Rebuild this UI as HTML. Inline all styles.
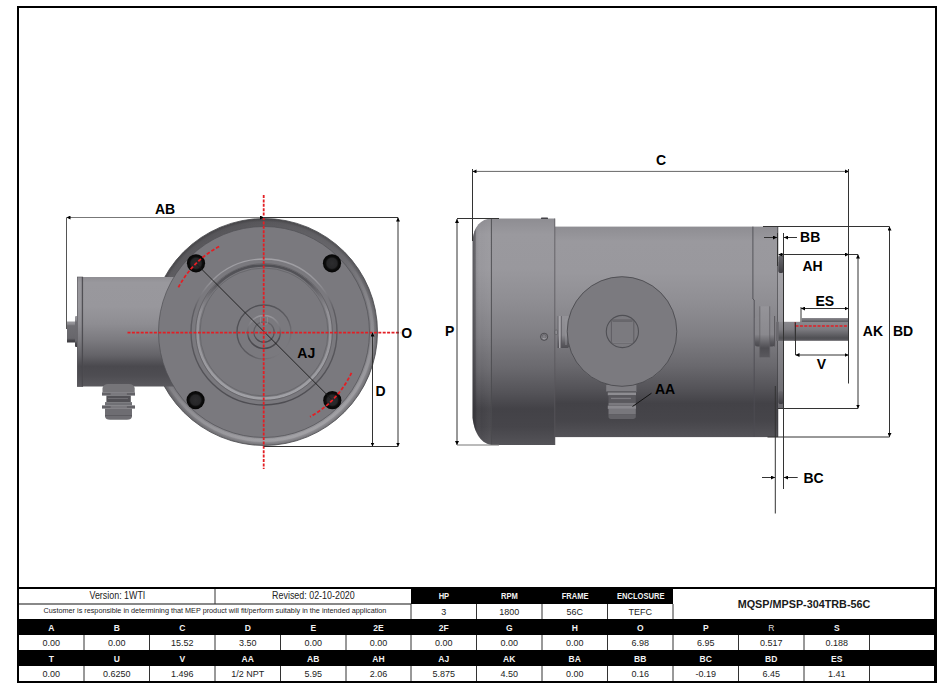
<!DOCTYPE html>
<html><head><meta charset="utf-8"><style>
html,body{margin:0;padding:0;background:#fff;}
body{width:947px;height:692px;position:relative;overflow:hidden;font-family:"Liberation Sans",sans-serif;}
.abs{position:absolute;}
.h,.d,.t{position:absolute;text-align:center;white-space:nowrap;box-sizing:border-box;}
.h{background:#000;color:#f2f2f2;font-weight:bold;font-size:8.5px;padding-top:1px;}
.hr{font-weight:normal;color:#ddd;}
.sx{display:inline-block;transform:scaleX(0.89);}
.d{background:#fff;color:#222;font-size:9px;padding-top:1px;}
.vl{position:absolute;width:1px;background:#666;}
#draw{position:absolute;left:0;top:0;}
#draw text{font-family:"Liberation Sans",sans-serif;font-weight:bold;font-size:14px;fill:#000;text-anchor:middle;}
</style></head><body>
<svg id="draw" width="947" height="692" viewBox="0 0 947 692">
<defs>
  <linearGradient id="gBody" x1="0" y1="0" x2="0" y2="1">
    <stop offset="0" stop-color="#8e8d92"/>
    <stop offset="0.07" stop-color="#9a999e"/>
    <stop offset="0.22" stop-color="#99989d"/>
    <stop offset="0.36" stop-color="#8f8e93"/>
    <stop offset="0.51" stop-color="#807f84"/>
    <stop offset="0.66" stop-color="#6a696e"/>
    <stop offset="0.77" stop-color="#545358"/>
    <stop offset="0.84" stop-color="#434247"/>
    <stop offset="0.92" stop-color="#46454a"/>
    <stop offset="1" stop-color="#545358"/>
  </linearGradient>
  <linearGradient id="gCyl" x1="0" y1="0" x2="0" y2="1">
    <stop offset="0" stop-color="#8f8e93"/>
    <stop offset="0.05" stop-color="#99989d"/>
    <stop offset="0.27" stop-color="#98979c"/>
    <stop offset="0.43" stop-color="#8e8d92"/>
    <stop offset="0.585" stop-color="#7a797e"/>
    <stop offset="0.715" stop-color="#646368"/>
    <stop offset="0.815" stop-color="#4a494e"/>
    <stop offset="0.9" stop-color="#4e4d52"/>
    <stop offset="1" stop-color="#5a595e"/>
  </linearGradient>
  <linearGradient id="gRim" x1="0.3" y1="0" x2="0.7" y2="1">
    <stop offset="0" stop-color="#555458"/>
    <stop offset="0.45" stop-color="#737277"/>
    <stop offset="1" stop-color="#99989d"/>
  </linearGradient>
  <linearGradient id="gShaft" x1="0" y1="0" x2="0" y2="1">
    <stop offset="0" stop-color="#8a898e"/>
    <stop offset="0.4" stop-color="#7c7b80"/>
    <stop offset="0.85" stop-color="#505054"/>
    <stop offset="1" stop-color="#5e5d62"/>
  </linearGradient>
  <radialGradient id="gBolt" cx="0.5" cy="0.5" r="0.5">
    <stop offset="0" stop-color="#2c2c2e"/>
    <stop offset="0.55" stop-color="#262628"/>
    <stop offset="0.72" stop-color="#0c0c0c"/>
    <stop offset="1" stop-color="#050505"/>
  </radialGradient>
  <marker id="ar" viewBox="0 0 10 10" refX="10" refY="5" markerWidth="4" markerHeight="4" orient="auto-start-reverse" markerUnits="userSpaceOnUse">
    <path d="M0,0 L10,5 L0,10 z" fill="#000"/>
  </marker>
  <linearGradient id="gTL" x1="0" y1="0" x2="0" y2="1">
    <stop offset="0" stop-color="#a2a1a6"/>
    <stop offset="0.15" stop-color="#96959a"/>
    <stop offset="0.35" stop-color="#5e5d62"/>
    <stop offset="1" stop-color="#4e4d52"/>
  </linearGradient>
  <linearGradient id="gTD" x1="0" y1="0" x2="0" y2="1">
    <stop offset="0" stop-color="#505055"/>
    <stop offset="0.12" stop-color="#56555a"/>
    <stop offset="0.35" stop-color="#929196"/>
    <stop offset="1" stop-color="#a0a0a5"/>
  </linearGradient>
  <linearGradient id="gCD" x1="0" y1="0" x2="1" y2="1">
    <stop offset="0" stop-color="#4a4a4f"/>
    <stop offset="0.6" stop-color="#5e5d62"/>
    <stop offset="1" stop-color="#8a898e"/>
  </linearGradient>
  <linearGradient id="gBellEdge" x1="0" y1="0" x2="1" y2="0">
    <stop offset="0" stop-color="#2e2d32" stop-opacity="0.6"/>
    <stop offset="0.14" stop-color="#2e2d32" stop-opacity="0.45"/>
    <stop offset="0.2" stop-color="#2e2d32" stop-opacity="0.08"/>
    <stop offset="0.45" stop-color="#ffffff" stop-opacity="0.0"/>
    <stop offset="1" stop-color="#ffffff" stop-opacity="0.04"/>
  </linearGradient>
  <linearGradient id="gLump" x1="0" y1="0" x2="0" y2="1">
    <stop offset="0" stop-color="#6a696e"/>
    <stop offset="0.5" stop-color="#56555a"/>
    <stop offset="1" stop-color="#3e3d42"/>
  </linearGradient>
  <linearGradient id="gTab" x1="0" y1="0" x2="0" y2="1">
    <stop offset="0" stop-color="#939297"/>
    <stop offset="0.6" stop-color="#8a898e"/>
    <stop offset="0.85" stop-color="#5e5d62"/>
    <stop offset="1" stop-color="#4e4d52"/>
  </linearGradient>
  <linearGradient id="gCap" x1="0" y1="0" x2="0" y2="1">
    <stop offset="0" stop-color="#8a898e"/>
    <stop offset="0.6" stop-color="#86858a"/>
    <stop offset="0.85" stop-color="#5a595e"/>
    <stop offset="1" stop-color="#4a494e"/>
  </linearGradient>
  <linearGradient id="gCap2" x1="0" y1="0" x2="0" y2="1">
    <stop offset="0" stop-color="#959499"/>
    <stop offset="0.55" stop-color="#8a898e"/>
    <stop offset="0.82" stop-color="#4e4d52"/>
    <stop offset="1" stop-color="#5a595e"/>
  </linearGradient>
  <linearGradient id="gKey" x1="0" y1="0" x2="0" y2="1">
    <stop offset="0" stop-color="#8c8b90"/>
    <stop offset="1" stop-color="#5a595e"/>
  </linearGradient>
  <linearGradient id="gStrip" x1="0" y1="0" x2="0" y2="1">
    <stop offset="0" stop-color="#a6a5aa"/>
    <stop offset="0.35" stop-color="#9a999e"/>
    <stop offset="0.6" stop-color="#858489"/>
    <stop offset="1" stop-color="#6a696e"/>
  </linearGradient>
  <linearGradient id="gR16" x1="0" y1="0" x2="0" y2="1">
    <stop offset="0" stop-color="#98979c"/>
    <stop offset="0.45" stop-color="#6e6d72"/>
    <stop offset="0.7" stop-color="#4e4d52"/>
    <stop offset="1" stop-color="#4a494e"/>
  </linearGradient>
  <linearGradient id="gR10" x1="0" y1="0" x2="0" y2="1">
    <stop offset="0" stop-color="#68676c"/>
    <stop offset="1" stop-color="#4a494e"/>
  </linearGradient>
  <radialGradient id="gRimR" cx="0.5" cy="0.5" r="0.5">
    <stop offset="0.925" stop-color="#000" stop-opacity="0"/>
    <stop offset="0.97" stop-color="#000" stop-opacity="0.03"/>
    <stop offset="1" stop-color="#000" stop-opacity="0.25"/>
  </radialGradient>
  <linearGradient id="gRimHi" x1="0.2" y1="0" x2="0.8" y2="1">
    <stop offset="0" stop-color="#fff" stop-opacity="0"/>
    <stop offset="0.4" stop-color="#fff" stop-opacity="0"/>
    <stop offset="0.6" stop-color="#fff" stop-opacity="0.12"/>
    <stop offset="1" stop-color="#fff" stop-opacity="0.15"/>
  </linearGradient>
  <linearGradient id="gNub" x1="0" y1="0" x2="0" y2="1">
    <stop offset="0" stop-color="#9a999e"/>
    <stop offset="0.12" stop-color="#8e8d92"/>
    <stop offset="0.2" stop-color="#6e6d72"/>
    <stop offset="0.8" stop-color="#67666b"/>
    <stop offset="0.9" stop-color="#47464b"/>
    <stop offset="1" stop-color="#3e3d42"/>
  </linearGradient>
</defs>

<!-- ============ LEFT VIEW ============ -->
<!-- main disc -->
<circle cx="264" cy="332" r="113.5" fill="url(#gRim)"/>
<circle cx="264" cy="332" r="113.5" fill="url(#gRimR)"/>
<circle cx="264" cy="332" r="108.5" fill="none" stroke="url(#gRimHi)" stroke-width="3"/>
<circle cx="264" cy="332" r="113.5" fill="none" stroke="#4a4a4e" stroke-width="0.8"/>
<!-- conduit box cylinder -->
<rect x="67" y="321.5" width="9" height="21" fill="url(#gNub)"/>
<rect x="75" y="316" width="3" height="31" rx="1" fill="url(#gNub)"/>
<rect x="77" y="277" width="100" height="109.5" fill="url(#gCyl)"/>
<rect x="77.3" y="277" width="5.5" height="109.5" fill="url(#gCyl)" stroke="#5a595e" stroke-width="0.6"/>
<line x1="82.3" y1="277" x2="82.3" y2="386.5" stroke="#48474c" stroke-width="1"/>
<!-- cable gland -->
<g>
  <path d="M102.5,392.4 L102.5,388 Q103.5,384 108,383.9 L129,383.9 Q133.7,384 134.7,388 L134.7,392.4 Z" fill="#767579"/>
  <rect x="102" y="392.4" width="33" height="3.2" fill="#636267"/>
  <rect x="110.6" y="392.9" width="16.3" height="2.2" fill="#7a797e"/>
  <rect x="106.4" y="395.6" width="24.4" height="6.5" fill="#525156"/>
  <rect x="108" y="398" width="20" height="1" fill="#6e6d72"/>
  <rect x="105" y="402.1" width="27" height="3.3" fill="#707075"/>
  <rect x="102" y="405.4" width="33" height="3.2" fill="#636267"/>
  <rect x="110.6" y="405.9" width="16.3" height="2.2" fill="#7a797e"/>
  <path d="M105,408.6 L132,408.6 L132,416.5 Q131.5,419.7 127,419.7 L110,419.7 Q105.5,419.7 105,416.5 Z" fill="#6e6d72"/>
  <rect x="105" y="415" width="27" height="0.8" fill="#58575c"/>
</g>
<circle cx="264" cy="332" r="105.5" fill="#7a797e" stroke="#505054" stroke-width="0.7"/>
<!-- pilot ring -->
<circle cx="264" cy="332" r="73" fill="none" stroke="url(#gTL)" stroke-width="1.4"/>
<circle cx="264" cy="332" r="66.5" fill="none" stroke="url(#gTD)" stroke-width="2.6"/>
<circle cx="264" cy="332" r="68.4" fill="none" stroke="#5e5d62" stroke-width="0.7"/>
<circle cx="264" cy="332" r="64" fill="none" stroke="#626166" stroke-width="0.7"/>
<!-- center rings -->
<circle cx="264" cy="332" r="27" fill="none" stroke="url(#gCD)" stroke-width="1.4"/>
<circle cx="264" cy="332" r="16.4" fill="none" stroke="url(#gR16)" stroke-width="1.5"/>
<circle cx="264" cy="332" r="10.2" fill="none" stroke="url(#gR10)" stroke-width="1.2"/>
<rect x="260.5" y="316.2" width="7" height="8" rx="1.5" fill="none" stroke="#8e8d92" stroke-width="0.8"/>
<!-- bolt holes -->
<circle cx="196" cy="263.3" r="9.1" fill="url(#gBolt)"/>
<circle cx="332" cy="263.3" r="9.1" fill="url(#gBolt)"/>
<circle cx="195.6" cy="400.1" r="9.1" fill="url(#gBolt)"/>
<circle cx="332.3" cy="400.2" r="9.1" fill="url(#gBolt)"/>
<!-- AJ line -->
<line x1="196" y1="263.5" x2="332.3" y2="400" stroke="#1a1a1a" stroke-width="0.9"/>
<!-- red centerlines -->
<line x1="263.7" y1="195" x2="263.7" y2="469" stroke="#e31e24" stroke-width="1.8" stroke-dasharray="3,1.4"/>
<line x1="127.5" y1="332.7" x2="400.5" y2="332.7" stroke="#e31e24" stroke-width="1.8" stroke-dasharray="3,1.4"/>
<path d="M178.4,287.4 A96.5,96.5 0 0 1 220.2,246" fill="none" stroke="#e31e24" stroke-width="1.8" stroke-dasharray="3.5,2"/>
<path d="M351.5,372.8 A96.5,96.5 0 0 1 310,416.8" fill="none" stroke="#e31e24" stroke-width="1.8" stroke-dasharray="3.5,2"/>

<!-- left dims -->
<g stroke="#333" stroke-width="1" fill="none">
  <line x1="66.5" y1="217.5" x2="264" y2="217.5" marker-start="url(#ar)" marker-end="url(#ar)" stroke="#777"/>
  <line x1="66.5" y1="217.5" x2="66.5" y2="329" stroke="#555"/>
  <line x1="264" y1="217.5" x2="398" y2="217.5"/>
  <line x1="398" y1="217.5" x2="398" y2="446.5" marker-start="url(#ar)" marker-end="url(#ar)"/>
  <line x1="264" y1="446.5" x2="398" y2="446.5"/>
  <line x1="372.5" y1="332.5" x2="372.5" y2="446.5" marker-start="url(#ar)" marker-end="url(#ar)"/>
</g>
<text x="165" y="214.3">AB</text>
<text x="406.6" y="337.8">O</text>
<text x="380.5" y="395.7">D</text>
<text x="306.3" y="358" fill="#222">AJ</text>

<!-- ============ RIGHT VIEW ============ -->
<!-- main body -->
<rect x="554" y="226.6" width="224" height="210.5" fill="url(#gBody)"/>
<path d="M752.9,226.6 L752.9,299 L754.2,300 L754.2,437" fill="none" stroke="#4e4d52" stroke-width="0.9"/>
<line x1="777.8" y1="226.6" x2="777.8" y2="437" stroke="#3a3a3e" stroke-width="0.8"/>
<!-- face strip -->
<rect x="778" y="262" width="5.7" height="146.5" fill="url(#gStrip)"/>
<line x1="783.5" y1="262" x2="783.5" y2="408.5" stroke="#555459" stroke-width="0.9"/>
<rect x="778.3" y="255" width="5.2" height="18" rx="2.6" fill="url(#gLump)"/>
<rect x="778.3" y="391" width="5.2" height="13" rx="2.6" fill="url(#gLump)"/>
<!-- end bell -->
<path d="M491.5,218.5 L555,218.5 L555,445 L491.5,445 C479,443 474,430 472.6,418 L472.6,241 C473.5,226 481,219 491.5,218.5 Z" fill="url(#gBody)"/>
<path d="M491.5,218.5 L491.5,445 C479,443 474,430 472.6,418 L472.6,241 C473.5,226 481,219 491.5,218.5 Z" fill="url(#gBellEdge)"/>
<line x1="491.4" y1="218.5" x2="491.4" y2="445" stroke="#4a494e" stroke-width="0.9"/>
<line x1="554.8" y1="218.5" x2="554.8" y2="445" stroke="#58575c" stroke-width="0.8"/>
<rect x="541" y="217.6" width="7" height="1.4" rx="0.6" fill="#444348"/>
<!-- screw -->
<circle cx="544.1" cy="336.8" r="3.6" fill="#818085" stroke="#46454a" stroke-width="0.9"/>
<circle cx="544.1" cy="336.5" r="2" fill="none" stroke="#5a595e" stroke-width="0.6"/>
<path d="M542.3,337.6 A2,2 0 0 0 546,337.6" fill="none" stroke="#a8a7ac" stroke-width="1"/>
<!-- conduit box (end view) -->
<path d="M557.7,316 L568,316 L569.5,318 L569.5,346 L568,348 L557.7,348 Z" fill="url(#gTab)"/>
<line x1="557.9" y1="316" x2="557.9" y2="348" stroke="#5a595e" stroke-width="0.6"/>
<line x1="559.8" y1="316" x2="559.8" y2="348" stroke="#a6a5aa" stroke-width="1.6"/>
<line x1="561.4" y1="316" x2="561.4" y2="348" stroke="#56555a" stroke-width="0.7"/>
<line x1="566" y1="319" x2="566" y2="345" stroke="#98979c" stroke-width="0.8"/>
<rect x="555" y="330" width="2.5" height="4.5" rx="1" fill="#8e8d92" stroke="#505055" stroke-width="0.5"/>
<!-- gland -->
<rect x="606.2" y="385" width="30.2" height="7" fill="#7e7d82"/>
<rect x="606.2" y="391" width="30.2" height="1" fill="#5e5d62"/>
<rect x="607.8" y="392.5" width="28.2" height="2.8" fill="#8e8d92"/>
<rect x="608.5" y="395.3" width="27.3" height="7.5" fill="#5a595e"/>
<rect x="611" y="397.8" width="20" height="1.3" fill="#7c7b80"/>
<rect x="608.5" y="402.8" width="27.3" height="2.7" fill="#7a797e"/>
<rect x="607.8" y="405.6" width="28.2" height="3.3" fill="#8a898e"/>
<rect x="608.5" y="409" width="27.3" height="5.5" fill="#78777c"/>
<path d="M608.5,414.5 L635.8,414.5 L635.8,417 Q635.3,419 632,419 L612,419 Q608.7,419 608.5,417 Z" fill="#636267"/>
<circle cx="622" cy="331.5" r="55" fill="#7b7a7f"/>
<circle cx="622" cy="331.5" r="54.8" fill="none" stroke="#3e3e42" stroke-width="0.7"/>
<circle cx="622.4" cy="331.5" r="16.1" fill="none" stroke="#505055" stroke-width="1.1"/>
<rect x="611.4" y="320" width="22.4" height="23.2" rx="1.5" fill="none" stroke="#58575c" stroke-width="0.8"/>
<line x1="612.5" y1="321.2" x2="632.5" y2="321.2" stroke="#67666b" stroke-width="1.6"/>
<line x1="612.5" y1="342.8" x2="632.5" y2="342.8" stroke="#8e8d92" stroke-width="0.7"/>
<!-- bearing cap -->
<rect x="754.9" y="316" width="19.7" height="30.5" rx="2.5" fill="url(#gCap)"/>
<rect x="759.8" y="306.3" width="9.9" height="51" fill="url(#gCap2)"/>
<line x1="759.8" y1="306.3" x2="759.8" y2="357.3" stroke="#5e5d62" stroke-width="0.7"/>
<line x1="769.7" y1="306.3" x2="769.7" y2="357.3" stroke="#5e5d62" stroke-width="0.7"/>
<line x1="774.6" y1="316" x2="774.6" y2="346.5" stroke="#4e4d52" stroke-width="0.8"/>
<!-- shaft -->
<rect x="776.2" y="321.8" width="72.4" height="19" fill="url(#gShaft)"/>
<rect x="776.2" y="321.8" width="2.5" height="19" fill="#6a696e"/>
<rect x="801.8" y="318" width="46.8" height="4" fill="url(#gKey)"/>
<line x1="795" y1="322" x2="795" y2="341" stroke="#4a494e" stroke-width="0.8"/>
<line x1="795.5" y1="326" x2="848.5" y2="326" stroke="#e31e24" stroke-width="1.4" stroke-dasharray="3,1.4"/>
<line x1="795.3" y1="322" x2="795.3" y2="327" stroke="#e31e24" stroke-width="1"/>

<!-- right dims -->
<g stroke="#333" stroke-width="1" fill="none">
  <line x1="472.5" y1="171.4" x2="849" y2="171.4" marker-start="url(#ar)" marker-end="url(#ar)" stroke="#666"/>
  <line x1="472.5" y1="169" x2="472.5" y2="241"/>
  <line x1="848.5" y1="169" x2="848.5" y2="383.5"/>
  <line x1="457" y1="219" x2="457" y2="445" marker-start="url(#ar)" marker-end="url(#ar)"/>
  <line x1="457" y1="218.5" x2="499" y2="218.5"/>
  <line x1="457" y1="445" x2="499" y2="445" stroke="#777"/>
  <line x1="777.5" y1="233" x2="777.5" y2="266"/>
  <line x1="783.5" y1="233" x2="783.5" y2="489"/>
  <line x1="764" y1="237.5" x2="777" y2="237.5" marker-end="url(#ar)"/>
  <line x1="797" y1="237.5" x2="784" y2="237.5" marker-end="url(#ar)"/>
  <line x1="778.5" y1="254.5" x2="849" y2="254.5" marker-start="url(#ar)" marker-end="url(#ar)"/>
  <line x1="849" y1="254.5" x2="858" y2="254.5"/>
  <line x1="858" y1="254.5" x2="858" y2="408.5" marker-start="url(#ar)" marker-end="url(#ar)"/>
  <line x1="778" y1="408.5" x2="858" y2="408.5"/>
  <line x1="763" y1="226.5" x2="889.5" y2="226.5"/>
  <line x1="889.5" y1="226.5" x2="889.5" y2="437" marker-start="url(#ar)" marker-end="url(#ar)"/>
  <line x1="767.5" y1="437" x2="889.5" y2="437"/>
  <line x1="801" y1="308.5" x2="848.5" y2="308.5" marker-start="url(#ar)" marker-end="url(#ar)"/>
  <line x1="801" y1="307" x2="801" y2="322"/>
  <line x1="795.5" y1="355" x2="848.5" y2="355" marker-start="url(#ar)" marker-end="url(#ar)"/>
  <line x1="795.5" y1="322.5" x2="795.5" y2="355"/>
  <line x1="775.3" y1="386" x2="775.3" y2="513.5"/>
  <line x1="762" y1="477.5" x2="775" y2="477.5" marker-end="url(#ar)"/>
  <line x1="797.7" y1="477.5" x2="784" y2="477.5" marker-end="url(#ar)"/>
  <line x1="651.5" y1="393.2" x2="632.5" y2="406.5" stroke="#111"/>
</g>
<text x="661" y="165.3">C</text>
<text x="449.75" y="336">P</text>
<text x="810.2" y="242">BB</text>
<text x="812.5" y="271">AH</text>
<text x="824.8" y="306">ES</text>
<text x="872.9" y="335.6">AK</text>
<text x="903" y="335.6">BD</text>
<text x="821.5" y="369">V</text>
<text x="813.5" y="482.5">BC</text>
<text x="665" y="394">AA</text>
</svg>

<div class="abs" style="left:17px;top:6px;width:916px;height:673px;border:2px solid #000;"></div>
<div class="abs" style="left:17px;top:587px;width:918px;height:2px;background:#000"></div>
<div class="t d" style="left:19px;top:588px;width:196px;height:15px;line-height:15px;font-size:10px;padding-top:0;background:transparent"><span class="sx">Version: 1WTI</span></div>
<div class="t d" style="left:215px;top:588px;width:196px;height:15px;line-height:15px;font-size:10px;padding-top:0;background:transparent"><span class="sx">Revised: 02-10-2020</span></div>
<div class="abs" style="left:19px;top:603px;width:392px;height:1.5px;background:#888"></div>
<div class="t d" style="left:19px;top:603px;width:392px;height:15px;line-height:15px;font-size:7.25px;padding-top:0;background:transparent">Customer is responsible in determining that MEP product will fit/perform suitably in the intended application</div>
<div class="h" style="left:411px;top:589px;width:65.5px;height:15px;line-height:15px;padding-top:0"><span class="sx">HP</span></div>
<div class="h" style="left:476.5px;top:589px;width:65.5px;height:15px;line-height:15px;padding-top:0"><span class="sx">RPM</span></div>
<div class="h" style="left:542px;top:589px;width:65.5px;height:15px;line-height:15px;padding-top:0"><span class="sx">FRAME</span></div>
<div class="h" style="left:607.5px;top:589px;width:65.5px;height:15px;line-height:15px;padding-top:0"><span class="sx">ENCLOSURE</span></div>
<div class="d" style="left:411px;top:604px;width:65.5px;height:15px;line-height:15px">3</div>
<div class="d" style="left:476.5px;top:604px;width:65.5px;height:15px;line-height:15px">1800</div>
<div class="d" style="left:542px;top:604px;width:65.5px;height:15px;line-height:15px">56C</div>
<div class="d" style="left:607.5px;top:604px;width:65.5px;height:15px;line-height:15px">TEFC</div>
<div class="t" style="left:673px;top:589px;width:262px;height:30px;line-height:30px;font-weight:bold;font-size:10.8px;color:#1a1a1a;">MQSP/MPSP-304TRB-56C</div>
<div class="h" style="left:18.5px;top:619px;width:65.5px;height:16px;line-height:16px">A</div>
<div class="h" style="left:84px;top:619px;width:65.5px;height:16px;line-height:16px">B</div>
<div class="h" style="left:149.5px;top:619px;width:65.5px;height:16px;line-height:16px">C</div>
<div class="h" style="left:215px;top:619px;width:65.5px;height:16px;line-height:16px">D</div>
<div class="h" style="left:280.5px;top:619px;width:65.5px;height:16px;line-height:16px">E</div>
<div class="h" style="left:346px;top:619px;width:65px;height:16px;line-height:16px">2E</div>
<div class="h" style="left:411px;top:619px;width:65.5px;height:16px;line-height:16px">2F</div>
<div class="h" style="left:476.5px;top:619px;width:65.5px;height:16px;line-height:16px">G</div>
<div class="h" style="left:542px;top:619px;width:65.5px;height:16px;line-height:16px">H</div>
<div class="h" style="left:607.5px;top:619px;width:65.5px;height:16px;line-height:16px">O</div>
<div class="h" style="left:673px;top:619px;width:65.5px;height:16px;line-height:16px">P</div>
<div class="h hr" style="left:738.5px;top:619px;width:65.5px;height:16px;line-height:16px">R</div>
<div class="h" style="left:804px;top:619px;width:65.5px;height:16px;line-height:16px">S</div>
<div class="h" style="left:869.5px;top:619px;width:65.5px;height:16px;line-height:16px"></div>
<div class="d" style="left:18.5px;top:635px;width:65.5px;height:15px;line-height:15px">0.00</div>
<div class="d" style="left:84px;top:635px;width:65.5px;height:15px;line-height:15px">0.00</div>
<div class="d" style="left:149.5px;top:635px;width:65.5px;height:15px;line-height:15px">15.52</div>
<div class="d" style="left:215px;top:635px;width:65.5px;height:15px;line-height:15px">3.50</div>
<div class="d" style="left:280.5px;top:635px;width:65.5px;height:15px;line-height:15px">0.00</div>
<div class="d" style="left:346px;top:635px;width:65px;height:15px;line-height:15px">0.00</div>
<div class="d" style="left:411px;top:635px;width:65.5px;height:15px;line-height:15px">0.00</div>
<div class="d" style="left:476.5px;top:635px;width:65.5px;height:15px;line-height:15px">0.00</div>
<div class="d" style="left:542px;top:635px;width:65.5px;height:15px;line-height:15px">0.00</div>
<div class="d" style="left:607.5px;top:635px;width:65.5px;height:15px;line-height:15px">6.98</div>
<div class="d" style="left:673px;top:635px;width:65.5px;height:15px;line-height:15px">6.95</div>
<div class="d" style="left:738.5px;top:635px;width:65.5px;height:15px;line-height:15px">0.517</div>
<div class="d" style="left:804px;top:635px;width:65.5px;height:15px;line-height:15px">0.188</div>
<div class="d" style="left:869.5px;top:635px;width:65.5px;height:15px;line-height:15px"></div>
<div class="h" style="left:18.5px;top:650px;width:65.5px;height:16px;line-height:16px">T</div>
<div class="h" style="left:84px;top:650px;width:65.5px;height:16px;line-height:16px">U</div>
<div class="h" style="left:149.5px;top:650px;width:65.5px;height:16px;line-height:16px">V</div>
<div class="h" style="left:215px;top:650px;width:65.5px;height:16px;line-height:16px">AA</div>
<div class="h" style="left:280.5px;top:650px;width:65.5px;height:16px;line-height:16px">AB</div>
<div class="h" style="left:346px;top:650px;width:65px;height:16px;line-height:16px">AH</div>
<div class="h" style="left:411px;top:650px;width:65.5px;height:16px;line-height:16px">AJ</div>
<div class="h" style="left:476.5px;top:650px;width:65.5px;height:16px;line-height:16px">AK</div>
<div class="h" style="left:542px;top:650px;width:65.5px;height:16px;line-height:16px">BA</div>
<div class="h" style="left:607.5px;top:650px;width:65.5px;height:16px;line-height:16px">BB</div>
<div class="h" style="left:673px;top:650px;width:65.5px;height:16px;line-height:16px">BC</div>
<div class="h" style="left:738.5px;top:650px;width:65.5px;height:16px;line-height:16px">BD</div>
<div class="h" style="left:804px;top:650px;width:65.5px;height:16px;line-height:16px">ES</div>
<div class="h" style="left:869.5px;top:650px;width:65.5px;height:16px;line-height:16px"></div>
<div class="d" style="left:18.5px;top:666px;width:65.5px;height:15px;line-height:15px">0.00</div>
<div class="d" style="left:84px;top:666px;width:65.5px;height:15px;line-height:15px">0.6250</div>
<div class="d" style="left:149.5px;top:666px;width:65.5px;height:15px;line-height:15px">1.496</div>
<div class="d" style="left:215px;top:666px;width:65.5px;height:15px;line-height:15px">1/2 NPT</div>
<div class="d" style="left:280.5px;top:666px;width:65.5px;height:15px;line-height:15px">5.95</div>
<div class="d" style="left:346px;top:666px;width:65px;height:15px;line-height:15px">2.06</div>
<div class="d" style="left:411px;top:666px;width:65.5px;height:15px;line-height:15px">5.875</div>
<div class="d" style="left:476.5px;top:666px;width:65.5px;height:15px;line-height:15px">4.50</div>
<div class="d" style="left:542px;top:666px;width:65.5px;height:15px;line-height:15px">0.00</div>
<div class="d" style="left:607.5px;top:666px;width:65.5px;height:15px;line-height:15px">0.16</div>
<div class="d" style="left:673px;top:666px;width:65.5px;height:15px;line-height:15px">-0.19</div>
<div class="d" style="left:738.5px;top:666px;width:65.5px;height:15px;line-height:15px">6.45</div>
<div class="d" style="left:804px;top:666px;width:65.5px;height:15px;line-height:15px">1.41</div>
<div class="d" style="left:869.5px;top:666px;width:65.5px;height:15px;line-height:15px"></div>
<svg class="abs" style="left:0;top:0" width="947" height="692" viewBox="0 0 947 692"><g stroke="#333" stroke-width="1">
<line x1="84" y1="635" x2="84" y2="650"/>
<line x1="149.5" y1="635" x2="149.5" y2="650"/>
<line x1="215" y1="635" x2="215" y2="650"/>
<line x1="280.5" y1="635" x2="280.5" y2="650"/>
<line x1="346" y1="635" x2="346" y2="650"/>
<line x1="411" y1="635" x2="411" y2="650"/>
<line x1="476.5" y1="635" x2="476.5" y2="650"/>
<line x1="542" y1="635" x2="542" y2="650"/>
<line x1="607.5" y1="635" x2="607.5" y2="650"/>
<line x1="673" y1="635" x2="673" y2="650"/>
<line x1="738.5" y1="635" x2="738.5" y2="650"/>
<line x1="804" y1="635" x2="804" y2="650"/>
<line x1="869.5" y1="635" x2="869.5" y2="650"/>
<line x1="84" y1="666" x2="84" y2="681"/>
<line x1="149.5" y1="666" x2="149.5" y2="681"/>
<line x1="215" y1="666" x2="215" y2="681"/>
<line x1="280.5" y1="666" x2="280.5" y2="681"/>
<line x1="346" y1="666" x2="346" y2="681"/>
<line x1="411" y1="666" x2="411" y2="681"/>
<line x1="476.5" y1="666" x2="476.5" y2="681"/>
<line x1="542" y1="666" x2="542" y2="681"/>
<line x1="607.5" y1="666" x2="607.5" y2="681"/>
<line x1="673" y1="666" x2="673" y2="681"/>
<line x1="738.5" y1="666" x2="738.5" y2="681"/>
<line x1="804" y1="666" x2="804" y2="681"/>
<line x1="869.5" y1="666" x2="869.5" y2="681"/>
<line x1="411" y1="604" x2="411" y2="619"/>
<line x1="476.5" y1="604" x2="476.5" y2="619"/>
<line x1="542" y1="604" x2="542" y2="619"/>
<line x1="607.5" y1="604" x2="607.5" y2="619"/>
<line x1="673" y1="604" x2="673" y2="619"/>
<line x1="215" y1="589" x2="215" y2="604"/>
</g></svg>
<div class="abs" style="left:17px;top:587px;width:2px;height:96px;background:#000"></div>
<div class="abs" style="left:934px;top:587px;width:2px;height:96px;background:#000"></div>
<div class="abs" style="left:17px;top:681px;width:919px;height:2px;background:#000"></div>
</body></html>
